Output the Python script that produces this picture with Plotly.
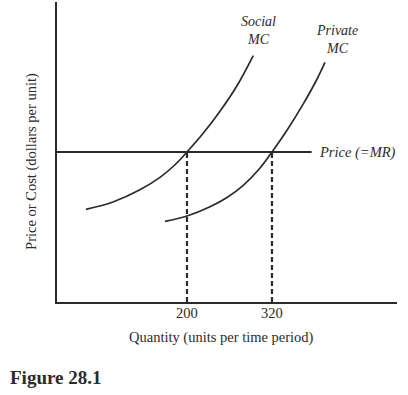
import plotly.graph_objects as go

# Data (quantity, price)
social_q = [57.4, 95.5, 133.6, 161.9, 183.1, 200, 222.6, 246.6, 270.6, 293.6]
social_p = [6.18, 6.67, 7.48, 8.31, 9.15, 10.0, 11.23, 12.72, 14.42, 16.43]
private_q = [168.9, 200, 232.5, 256.5, 279.5, 303.5, 320, 341.2, 364.2, 383.5, 394.8]
private_p = [5.37, 5.73, 6.35, 6.97, 7.78, 8.95, 10.0, 11.45, 13.21, 14.85, 15.97]
price = 10
price_q_end = 376
equilibria = [200, 320]
tick_labels = ["200", "320"]

X_RANGE = [16.5, 496.5]
Y_RANGE = [0, 20]
FONT = "Liberation Serif, Times New Roman, serif"
INK = "#2b2b2b"

fig = go.Figure()

fig.add_trace(go.Scatter(x=social_q, y=social_p, mode="lines",
                         line=dict(color=INK, width=1.7, shape="spline", smoothing=1),
                         hoverinfo="skip"))
fig.add_trace(go.Scatter(x=private_q, y=private_p, mode="lines",
                         line=dict(color=INK, width=1.7, shape="spline", smoothing=1),
                         hoverinfo="skip"))
fig.add_trace(go.Scatter(x=[X_RANGE[0], price_q_end], y=[price, price], mode="lines",
                         line=dict(color=INK, width=1.9), hoverinfo="skip"))
for q in equilibria:
    fig.add_trace(go.Scatter(x=[q, q], y=[Y_RANGE[0], price], mode="lines",
                             line=dict(color=INK, width=2.2, dash="5px,3px"),
                             hoverinfo="skip"))

annotations = [
    dict(x=301.6, y=18.1, xref="x", yref="y", text="<i>Social<br>MC</i>",
         xanchor="center", yanchor="middle",
         showarrow=False, font=dict(family=FONT, size=14, color=INK)),
    dict(x=411.8, y=17.5, xref="x", yref="y", text="<i>Private<br>MC</i>",
         xanchor="center", yanchor="middle",
         showarrow=False, font=dict(family=FONT, size=14, color=INK)),
    dict(x=383, y=price, xref="x", yref="y", text="<i>Price (=MR)</i>",
         showarrow=False, xanchor="left", yanchor="middle",
         font=dict(family=FONT, size=14.5, color=INK)),
    dict(x=-0.0735, y=0.467, xref="paper", yref="paper",
         text="Price or Cost (dollars per unit)", textangle=-90,
         xanchor="center", yanchor="middle",
         showarrow=False, font=dict(family=FONT, size=14.5, color=INK)),
    dict(x=0.485, y=-0.117, xref="paper", yref="paper",
         text="Quantity (units per time period)",
         xanchor="center", yanchor="middle",
         showarrow=False, font=dict(family=FONT, size=14.5, color=INK)),
    dict(x=-0.144, y=-0.253, xref="paper", yref="paper",
         xanchor="left", yanchor="middle",
         text="<b>Figure 28.1</b>",
         showarrow=False, font=dict(family=FONT, size=19, color=INK)),
]

fig.update_layout(
    width=408, height=395,
    margin=dict(l=57, r=11, t=2, b=93),
    paper_bgcolor="white", plot_bgcolor="white",
    showlegend=False,
    annotations=annotations,
    xaxis=dict(range=X_RANGE, showgrid=False, zeroline=False,
               showline=True, linecolor=INK, linewidth=2.2,
               tickvals=equilibria, ticktext=tick_labels, ticks="",
               ticklabelstandoff=-4,
               tickfont=dict(family=FONT, size=14.5, color=INK), fixedrange=True),
    yaxis=dict(range=Y_RANGE, showgrid=False, zeroline=False,
               showline=True, linecolor=INK, linewidth=2.2,
               showticklabels=False, ticks="", fixedrange=True),
)

fig.write_html("out.html", config={"displayModeBar": False},
               post_script="document.body.style.margin='0';document.body.style.overflow='hidden';")
